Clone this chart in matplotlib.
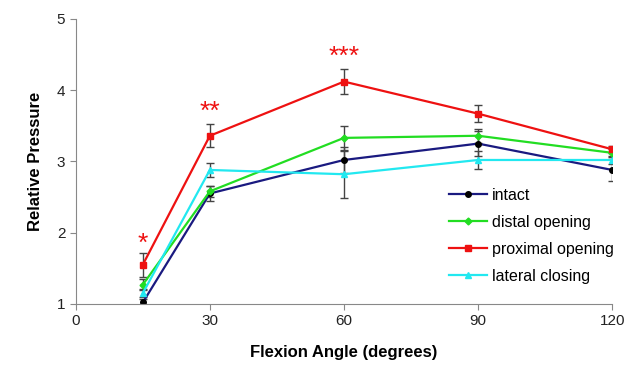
import numpy as np
import matplotlib.pyplot as plt
from matplotlib.lines import Line2D

plt.rcParams['font.family'] = 'Liberation Sans'

angles = [15, 30, 60, 90, 120]
intact = [1.02, 2.55, 3.02, 3.25, 2.88]
distal = [1.27, 2.58, 3.33, 3.36, 3.12]
proximal = [1.55, 3.36, 4.12, 3.67, 3.17]
lateral = [1.15, 2.88, 2.82, 3.02, 3.02]
intact_err = [0.05, 0.1, 0.18, 0.18, 0.15]
distal_err = [0.08, 0.08, 0.17, 0.1, 0.06]
proximal_err = [0.17, 0.16, 0.17, 0.12, 0.05]
lateral_err = [0.06, 0.1, 0.33, 0.12, 0.06]
stars = ['*', '**', '***']
star_x = [15, 30, 60]
star_y = [1.68, 3.52, 4.3]

fig = plt.figure(figsize=(6.26, 3.78), dpi=100)
ax = fig.add_axes([0.121, 0.196, 0.857, 0.754])

series = [
    ('intact', intact, intact_err, '#1a1a80', 'o', 'black', 4),
    ('distal opening', distal, distal_err, '#22dd22', 'D', '#22dd22', 3.5),
    ('proximal opening', proximal, proximal_err, '#ee1111', 's', '#ee1111', 4.5),
    ('lateral closing', lateral, lateral_err, '#22e8f0', '^', '#22e8f0', 5),
]
handles = []
for name, vals, err, col, mk, mcol, ms in series:
    ax.errorbar(angles, vals, yerr=err, color=col, marker=mk, mfc=mcol, mec=mcol,
                ms=ms, lw=1.6, ecolor='#444444', elinewidth=1, capsize=3, capthick=1)
    handles.append(Line2D([], [], color=col, marker=mk, mfc=mcol, mec=mcol,
                          ms=ms, lw=1.6, label=name))

for s, x, y in zip(stars, star_x, star_y):
    ax.text(x, y, s, color='#ee1111', fontsize=19, ha='center', va='bottom')

ax.set_xlim(0, 120)
ax.set_ylim(1, 5)
ax.set_xticks([0, 30, 60, 90, 120])
ax.set_yticks([1, 2, 3, 4, 5])
for sp in ['top', 'right']:
    ax.spines[sp].set_visible(False)
for sp in ['left', 'bottom']:
    ax.spines[sp].set_color('#888888')
ax.tick_params(colors='#888888', labelcolor='#222222', labelsize=11, length=4)
ax.set_xlabel('Flexion Angle (degrees)', fontsize=12, fontweight='bold', labelpad=12)
ax.set_ylabel('Relative Pressure', fontsize=12, fontweight='bold', labelpad=10)

ax.legend(handles=handles, loc='lower right', frameon=False, fontsize=11.5,
          bbox_to_anchor=(1.03, 0.02), handlelength=2.4, handletextpad=0.3,
          labelspacing=0.75)

fig.savefig('out.png', dpi=100)
